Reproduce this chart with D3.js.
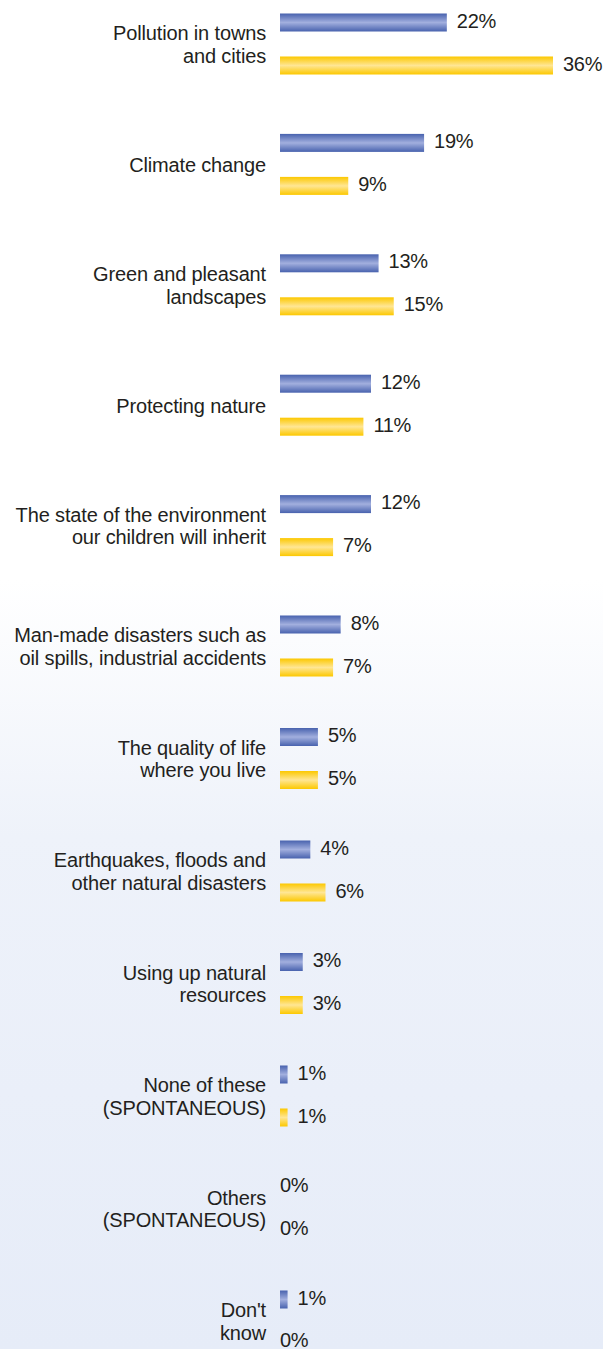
<!DOCTYPE html>
<html><head><meta charset="utf-8">
<script src="https://cdn.jsdelivr.net/npm/d3@7"></script>
<style>html,body{margin:0;padding:0;background:#fff;}svg{display:block;}</style>
</head><body>
<script>
const categories = [
  ["Pollution in towns", "and cities"],
  ["Climate change"],
  ["Green and pleasant", "landscapes"],
  ["Protecting nature"],
  ["The state of the environment", "our children will inherit"],
  ["Man-made disasters such as", "oil spills, industrial accidents"],
  ["The quality  of life", "where you live"],
  ["Earthquakes, floods and", "other natural disasters"],
  ["Using up natural", "resources"],
  ["None of these", "(SPONTANEOUS)"],
  ["Others", "(SPONTANEOUS)"],
  ["Don't", "know"]
];
const series1 = [22, 19, 13, 12, 12, 8, 5, 4, 3, 1, 0, 1];
const series2 = [36, 9, 15, 11, 7, 7, 5, 6, 3, 1, 0, 0];

const W = 603, H = 1349;
const svg = d3.select("body").append("svg").attr("width", W).attr("height", H);
const defs = svg.append("defs");
const bg = defs.append("linearGradient").attr("id","bg").attr("x1",0).attr("x2",0).attr("y1",0).attr("y2",1);
bg.append("stop").attr("offset","0.43").attr("stop-color","#ffffff");
bg.append("stop").attr("offset","0.62").attr("stop-color","#eef2fa");
bg.append("stop").attr("offset","1").attr("stop-color","#e6ecf8");
svg.append("rect").attr("width",W).attr("height",H).attr("fill","url(#bg)");

function grad(id, edge, mid){
  const g = defs.append("linearGradient").attr("id",id).attr("x1",0).attr("x2",0).attr("y1",0).attr("y2",1);
  g.append("stop").attr("offset","0").attr("stop-color",edge);
  g.append("stop").attr("offset","0.5").attr("stop-color",mid);
  g.append("stop").attr("offset","1").attr("stop-color",edge);
}
grad("gBlue", "#4862ae", "#a2afde");
grad("gYel", "#fcc800", "#ffe694");

const idx = categories.map((d,i)=>i);
// group rows are spaced slightly wider in the upper half of the original
const y = d3.scaleLinear().domain([0, 5, 11]).range([44, 646, 1321]);
const x = d3.scaleLinear().domain([0, 36]).range([280, 553]);
const barH = 18, off = 21.5;
const FONT = "Liberation Sans, Arial, Helvetica, sans-serif";

const g = svg.append("g");
const grp = g.selectAll("g.grp").data(idx).join("g").attr("class","grp")
  .attr("transform", i => `translate(0,${y(i)})`);

grp.each(function(i){
  const lines = categories[i];
  const t = d3.select(this).append("text")
    .attr("x", 266).attr("text-anchor","end")
    .attr("font-family", FONT).attr("font-size",20)
    .attr("letter-spacing", "-0.15px")
    .attr("fill","#231f20");
  const n = lines.length;
  lines.forEach((l,k)=>{
    t.append("tspan").attr("x",266).attr("y", (k - (n-1)/2)*22.5 + 7.5).text(l);
  });
});

const sets = [[series1, "gBlue", -off],[series2, "gYel", off]];
sets.forEach(([vals, fill, dy])=>{
  grp.append("rect")
    .attr("x", x(0))
    .attr("y", dy - barH/2)
    .attr("width", i => x(vals[i]) - x(0))
    .attr("height", barH)
    .attr("fill", `url(#${fill})`);
  grp.append("text")
    .attr("x", i => vals[i] > 0 ? x(vals[i]) + 10 : x(0))
    .attr("y", i => (vals === series2 && i === categories.length-1) ? dy + 4 : dy + 5)
    .attr("font-family", FONT).attr("font-size",20)
    .attr("letter-spacing", "-0.3px")
    .attr("fill","#231f20")
    .text(i => vals[i] + "%");
});
</script>
</body></html>
